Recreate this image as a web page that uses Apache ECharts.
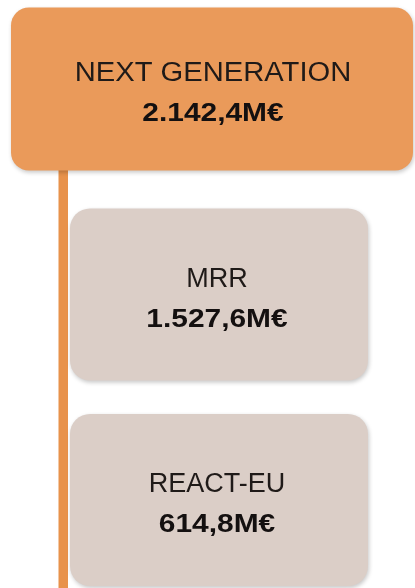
<!DOCTYPE html>
<html>
<head>
<meta charset="utf-8">
<script src="https://cdn.jsdelivr.net/npm/echarts@6/dist/echarts.min.js"></script>
<style>html,body{margin:0;padding:0;background:#fff}#c{width:415px;height:588px}</style>
</head>
<body>
<div id="c"></div>
<script>
// ---- data ----
const nodeNames = ['NEXT GENERATION', 'MRR', 'REACT-EU'];
const nodeValues = [2142.4, 1527.6, 614.8];
const nodeLevels = [0, 1, 1];
const nodeRows = [0, 1, 2];

// ---- formatting ----
function fmtEur(v) {
  const parts = v.toFixed(1).split('.');
  const intPart = parts[0].replace(/\B(?=(\d{3})+(?!\d))/g, '.');
  return intPart + ',' + parts[1] + 'M€';
}

// ---- styles ----
const FONT = '"Liberation Sans", Arial, sans-serif';
const levelStyle = [
  { left: 11, right: 413, height: 163, fill: '#EA9A5A', radius: 18, textX: 213 },
  { left: 70, right: 368, height: 172, fill: '#DBCEC7', radius: 20, textX: 217 }
];
const lineColor = '#E8924B';

const chart = echarts.init(document.getElementById('c'));
const data = nodeNames.map((n, i) => [nodeLevels[i], nodeRows[i], n, nodeValues[i]]);

chart.setOption({
  backgroundColor: '#ffffff',
  animation: false,
  grid: { left: 0, right: 0, top: 89, bottom: 88 },
  xAxis: { type: 'value', min: 0, max: 1, show: false },
  yAxis: { type: 'value', min: 0, max: 2, inverse: true, show: false },
  series: [{
    type: 'custom',
    coordinateSystem: 'cartesian2d',
    data: data,
    renderItem: function (params, api) {
      const level = api.value(0);
      const row = api.value(1);
      const name = nodeNames[params.dataIndex];
      const val = nodeValues[params.dataIndex];
      const st = levelStyle[level];
      const cy = api.coord([0, row])[1];
      const top = cy - st.height / 2;
      const children = [];
      if (level === 0) {
        children.push({
          type: 'rect',
          shape: { x: 58.5, y: top + st.height - 4, width: 9.5, height: api.getHeight() - (top + st.height - 4) },
          style: { fill: lineColor }
        });
      }
      children.push({
        type: 'rect',
        shape: { x: st.left, y: top, width: st.right - st.left, height: st.height, r: st.radius },
        style: { fill: st.fill, shadowBlur: 4, shadowOffsetX: 1, shadowOffsetY: 2, shadowColor: 'rgba(0,0,0,0.22)' }
      });
      children.push({
        type: 'text',
        x: st.textX, y: cy - 15,
        scaleX: level === 0 ? 1.08 : 1.0,
        style: { text: name, x: 0, y: 0, align: 'center', verticalAlign: 'middle',
                 font: '27px ' + FONT, fill: '#1f1a18' }
      });
      children.push({
        type: 'text',
        x: st.textX, y: cy + 25,
        scaleX: 1.15,
        style: { text: fmtEur(val), x: 0, y: 0, align: 'center', verticalAlign: 'middle',
                 font: 'bold 26px ' + FONT, fill: '#141010' }
      });
      return { type: 'group', children: children };
    }
  }]
});
</script>
</body>
</html>
